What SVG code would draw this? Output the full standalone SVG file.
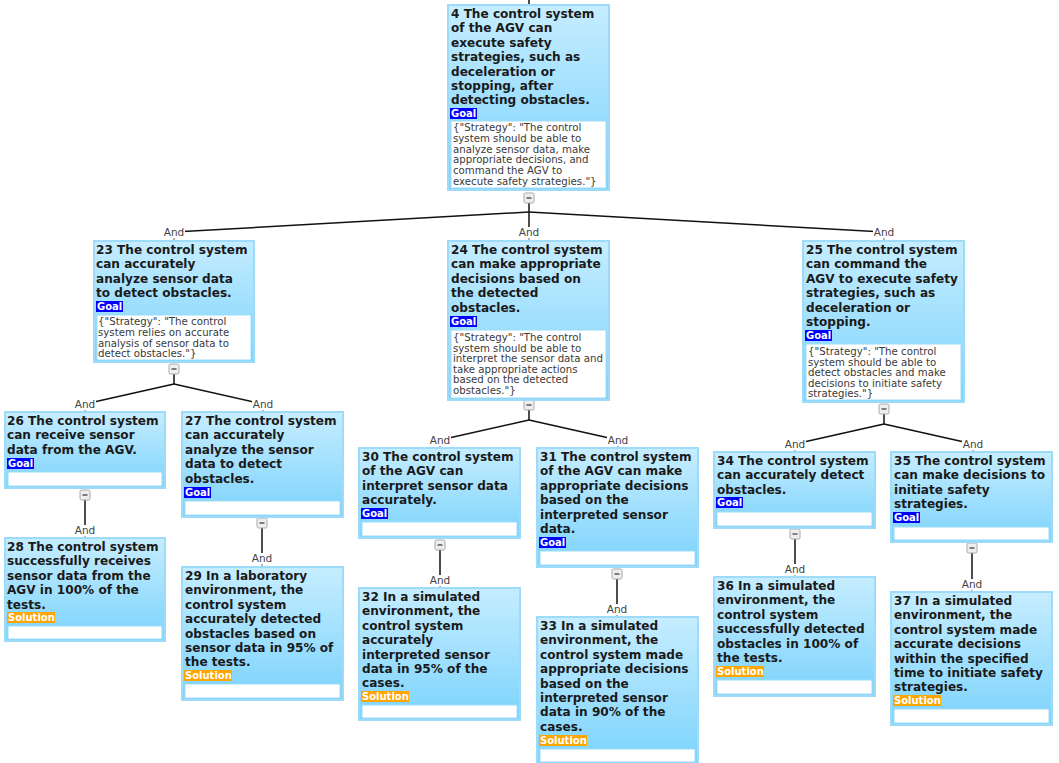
<svg xmlns="http://www.w3.org/2000/svg" width="1059" height="763" viewBox="0 0 1059 763">
<defs>
<linearGradient id="g" x1="0" y1="0" x2="0" y2="1">
<stop offset="0" stop-color="#c6edff"/>
<stop offset="1" stop-color="#7cd3fc"/>
</linearGradient>
<style>
.box{fill:url(#g);stroke:#9edbf8;stroke-width:2}
.wb{fill:#fff;stroke:#9edbf8;stroke-width:1}
.t{font-family:"DejaVu Sans",Verdana,sans-serif;font-weight:bold;font-size:12.1px;fill:#1a1a1a}
.s{font-family:"DejaVu Sans",Verdana,sans-serif;font-size:10.2px;fill:#3a3a3a}
.goal{fill:#0000ff}
.sol{fill:#ffa500}
.lt{font-family:"DejaVu Sans",Verdana,sans-serif;font-weight:bold;font-size:10px;fill:#fff}
.ln{stroke:#111;stroke-width:1.5;fill:none}
.tk{stroke:#666;stroke-width:1;fill:none}
.btn{fill:#eee;stroke:#aaa;stroke-width:1}
.mn{stroke:#333;stroke-width:1.2}
.and{font-family:"DejaVu Sans",Verdana,sans-serif;font-size:10.5px;fill:#444;text-anchor:middle}
.ab{fill:#fff}
</style>
</defs>
<rect width="1059" height="763" fill="#fff"/>
<g id="connectors">
<line class="ln" x1="529" y1="0" x2="529" y2="5"/>
<line class="ln" x1="529" y1="203" x2="529" y2="230"/>
<line class="ln" x1="529" y1="212" x2="174" y2="232"/>
<line class="ln" x1="529" y1="212" x2="884" y2="232"/>
<line class="ln" x1="174" y1="374" x2="174" y2="384"/>
<line class="ln" x1="174" y1="384" x2="85" y2="404"/>
<line class="ln" x1="174" y1="384" x2="263" y2="404"/>
<line class="ln" x1="529" y1="410" x2="529" y2="420"/>
<line class="ln" x1="529" y1="420" x2="440" y2="440"/>
<line class="ln" x1="529" y1="420" x2="618" y2="440"/>
<line class="ln" x1="884" y1="414" x2="884" y2="424"/>
<line class="ln" x1="884" y1="424" x2="795" y2="444"/>
<line class="ln" x1="884" y1="424" x2="973" y2="444"/>
<line class="ln" x1="85" y1="500" x2="85" y2="525"/>
<line class="ln" x1="262" y1="528" x2="262" y2="553"/>
<line class="ln" x1="440" y1="550" x2="440" y2="575"/>
<line class="ln" x1="617" y1="579" x2="617" y2="604"/>
<line class="ln" x1="795" y1="539" x2="795" y2="564"/>
<line class="ln" x1="972" y1="553" x2="972" y2="579"/>
<g>
<rect class="ab" x="163" y="227" width="22" height="11"/><text class="and" x="174" y="236">And</text>
<rect class="ab" x="518" y="227" width="22" height="11"/><text class="and" x="529" y="236">And</text>
<rect class="ab" x="873" y="227" width="22" height="11"/><text class="and" x="884" y="236">And</text>
<rect class="ab" x="74" y="399" width="22" height="11"/><text class="and" x="85" y="408">And</text>
<rect class="ab" x="252" y="399" width="22" height="11"/><text class="and" x="263" y="408">And</text>
<rect class="ab" x="429" y="435" width="22" height="11"/><text class="and" x="440" y="444">And</text>
<rect class="ab" x="607" y="435" width="22" height="11"/><text class="and" x="618" y="444">And</text>
<rect class="ab" x="784" y="439" width="22" height="11"/><text class="and" x="795" y="448">And</text>
<rect class="ab" x="962" y="439" width="22" height="11"/><text class="and" x="973" y="448">And</text>
<text class="and" x="85" y="534">And</text>
<text class="and" x="262" y="562">And</text>
<text class="and" x="440" y="584">And</text>
<text class="and" x="617" y="613">And</text>
<text class="and" x="795" y="573">And</text>
<text class="and" x="972" y="588">And</text>
</g>
<g>
<line class="tk" x1="174" y1="238" x2="174" y2="240"/>
<line class="tk" x1="529" y1="238" x2="529" y2="240"/>
<line class="tk" x1="884" y1="238" x2="884" y2="240"/>
<line class="tk" x1="85" y1="410" x2="85" y2="411"/>
<line class="tk" x1="263" y1="410" x2="263" y2="411"/>
<line class="tk" x1="440" y1="446" x2="440" y2="447"/>
<line class="tk" x1="618" y1="446" x2="618" y2="447"/>
<line class="tk" x1="795" y1="450" x2="795" y2="451"/>
<line class="tk" x1="973" y1="450" x2="973" y2="451"/>
<line class="tk" x1="85" y1="536" x2="85" y2="537"/>
<line class="tk" x1="262" y1="564" x2="262" y2="566"/>
<line class="tk" x1="440" y1="586" x2="440" y2="587"/>
<line class="tk" x1="617" y1="615" x2="617" y2="616"/>
<line class="tk" x1="795" y1="575" x2="795" y2="576"/>
<line class="tk" x1="972" y1="590" x2="972" y2="591"/>
</g>
<g>
<rect class="btn" x="524" y="193" width="10" height="10" rx="1.5"/><line class="mn" x1="526.5" y1="198" x2="531.5" y2="198"/>
<rect class="btn" x="169" y="364" width="10" height="10" rx="1.5"/><line class="mn" x1="171.5" y1="369" x2="176.5" y2="369"/>
<rect class="btn" x="524" y="400" width="10" height="10" rx="1.5"/><line class="mn" x1="526.5" y1="405" x2="531.5" y2="405"/>
<rect class="btn" x="879" y="404" width="10" height="10" rx="1.5"/><line class="mn" x1="881.5" y1="409" x2="886.5" y2="409"/>
<rect class="btn" x="80" y="490" width="10" height="10" rx="1.5"/><line class="mn" x1="82.5" y1="495" x2="87.5" y2="495"/>
<rect class="btn" x="257" y="518" width="10" height="10" rx="1.5"/><line class="mn" x1="259.5" y1="523" x2="264.5" y2="523"/>
<rect class="btn" x="435" y="540" width="10" height="10" rx="1.5"/><line class="mn" x1="437.5" y1="545" x2="442.5" y2="545"/>
<rect class="btn" x="612" y="569" width="10" height="10" rx="1.5"/><line class="mn" x1="614.5" y1="574" x2="619.5" y2="574"/>
<rect class="btn" x="790" y="529" width="10" height="10" rx="1.5"/><line class="mn" x1="792.5" y1="534" x2="797.5" y2="534"/>
<rect class="btn" x="967" y="543" width="10" height="10" rx="1.5"/><line class="mn" x1="969.5" y1="548" x2="974.5" y2="548"/>
</g>
</g>
<g id="n4">
<rect class="box" x="448" y="5" width="161" height="185"/>
<text class="t" x="451" y="18"><tspan x="451">4 The control system</tspan><tspan x="451" dy="14.4">of the AGV can</tspan><tspan x="451" dy="14.4">execute safety</tspan><tspan x="451" dy="14.4">strategies, such as</tspan><tspan x="451" dy="14.4">deceleration or</tspan><tspan x="451" dy="14.4">stopping, after</tspan><tspan x="451" dy="14.4">detecting obstacles.</tspan></text>
<rect class="goal" x="450" y="108" width="27" height="11"/><text class="lt" x="451" y="117">Goal</text>
<rect class="wb" x="451" y="121" width="155" height="67"/>
<text class="s" x="453" y="131"><tspan x="453">{"Strategy": "The control</tspan><tspan x="453" dy="10.8">system should be able to</tspan><tspan x="453" dy="10.8">analyze sensor data, make</tspan><tspan x="453" dy="10.8">appropriate decisions, and</tspan><tspan x="453" dy="10.8">command the AGV to</tspan><tspan x="453" dy="10.8">execute safety strategies."}</tspan></text>
</g>
<g id="n23">
<rect class="box" x="94" y="241" width="160" height="121"/>
<text class="t" x="96" y="254"><tspan x="96">23 The control system</tspan><tspan x="96" dy="14.4">can accurately</tspan><tspan x="96" dy="14.4">analyze sensor data</tspan><tspan x="96" dy="14.4">to detect obstacles.</tspan></text>
<rect class="goal" x="96" y="301" width="27" height="11"/><text class="lt" x="97" y="310">Goal</text>
<rect class="wb" x="97" y="315" width="154" height="45"/>
<text class="s" x="98" y="325"><tspan x="98">{"Strategy": "The control</tspan><tspan x="98" dy="10.8">system relies on accurate</tspan><tspan x="98" dy="10.8">analysis of sensor data to</tspan><tspan x="98" dy="10.8">detect obstacles."}</tspan></text>
</g>
<g id="n24">
<rect class="box" x="448" y="241" width="161" height="159"/>
<text class="t" x="451" y="254"><tspan x="451">24 The control system</tspan><tspan x="451" dy="14.4">can make appropriate</tspan><tspan x="451" dy="14.4">decisions based on</tspan><tspan x="451" dy="14.4">the detected</tspan><tspan x="451" dy="14.4">obstacles.</tspan></text>
<rect class="goal" x="450" y="316" width="27" height="11"/><text class="lt" x="451" y="325">Goal</text>
<rect class="wb" x="451" y="330" width="155" height="68"/>
<text class="s" x="453" y="341"><tspan x="453">{"Strategy": "The control</tspan><tspan x="453" dy="10.6">system should be able to</tspan><tspan x="453" dy="10.6">interpret the sensor data and</tspan><tspan x="453" dy="10.6">take appropriate actions</tspan><tspan x="453" dy="10.6">based on the detected</tspan><tspan x="453" dy="10.6">obstacles."}</tspan></text>
</g>
<g id="n25">
<rect class="box" x="803" y="241" width="161" height="161"/>
<text class="t" x="806" y="254"><tspan x="806">25 The control system</tspan><tspan x="806" dy="14.4">can command the</tspan><tspan x="806" dy="14.4">AGV to execute safety</tspan><tspan x="806" dy="14.4">strategies, such as</tspan><tspan x="806" dy="14.4">deceleration or</tspan><tspan x="806" dy="14.4">stopping.</tspan></text>
<rect class="goal" x="805" y="330" width="27" height="11"/><text class="lt" x="806" y="339">Goal</text>
<rect class="wb" x="806" y="344" width="155" height="56"/>
<text class="s" x="808" y="355"><tspan x="808">{"Strategy": "The control</tspan><tspan x="808" dy="10.6">system should be able to</tspan><tspan x="808" dy="10.6">detect obstacles and make</tspan><tspan x="808" dy="10.6">decisions to initiate safety</tspan><tspan x="808" dy="10.6">strategies."}</tspan></text>
</g>
<g id="n26">
<rect class="box" x="5" y="412" width="160" height="76"/>
<text class="t" x="7" y="425"><tspan x="7">26 The control system</tspan><tspan x="7" dy="14.4">can receive sensor</tspan><tspan x="7" dy="14.4">data from the AGV.</tspan></text>
<rect class="goal" x="7" y="458" width="27" height="11"/><text class="lt" x="8" y="467">Goal</text>
<rect class="wb" x="8" y="472" width="154" height="14"/>
</g>
<g id="n27">
<rect class="box" x="182" y="412" width="161" height="105"/>
<text class="t" x="185" y="425"><tspan x="185">27 The control system</tspan><tspan x="185" dy="14.4">can accurately</tspan><tspan x="185" dy="14.4">analyze the sensor</tspan><tspan x="185" dy="14.4">data to detect</tspan><tspan x="185" dy="14.4">obstacles.</tspan></text>
<rect class="goal" x="184" y="487" width="27" height="11"/><text class="lt" x="185" y="496">Goal</text>
<rect class="wb" x="185" y="501" width="155" height="14"/>
</g>
<g id="n30">
<rect class="box" x="359" y="448" width="161" height="90"/>
<text class="t" x="362" y="461"><tspan x="362">30 The control system</tspan><tspan x="362" dy="14.4">of the AGV can</tspan><tspan x="362" dy="14.4">interpret sensor data</tspan><tspan x="362" dy="14.4">accurately.</tspan></text>
<rect class="goal" x="361" y="508" width="27" height="11"/><text class="lt" x="362" y="517">Goal</text>
<rect class="wb" x="362" y="522" width="155" height="14"/>
</g>
<g id="n31">
<rect class="box" x="537" y="448" width="161" height="119"/>
<text class="t" x="540" y="461"><tspan x="540">31 The control system</tspan><tspan x="540" dy="14.4">of the AGV can make</tspan><tspan x="540" dy="14.4">appropriate decisions</tspan><tspan x="540" dy="14.4">based on the</tspan><tspan x="540" dy="14.4">interpreted sensor</tspan><tspan x="540" dy="14.4">data.</tspan></text>
<rect class="goal" x="539" y="537" width="27" height="11"/><text class="lt" x="540" y="546">Goal</text>
<rect class="wb" x="540" y="551" width="155" height="14"/>
</g>
<g id="n34">
<rect class="box" x="714" y="452" width="161" height="76"/>
<text class="t" x="717" y="465"><tspan x="717">34 The control system</tspan><tspan x="717" dy="14.4">can accurately detect</tspan><tspan x="717" dy="14.4">obstacles.</tspan></text>
<rect class="goal" x="716" y="497" width="27" height="11"/><text class="lt" x="717" y="506">Goal</text>
<rect class="wb" x="717" y="512" width="155" height="14"/>
</g>
<g id="n35">
<rect class="box" x="891" y="452" width="161" height="90"/>
<text class="t" x="894" y="465"><tspan x="894">35 The control system</tspan><tspan x="894" dy="14.4">can make decisions to</tspan><tspan x="894" dy="14.4">initiate safety</tspan><tspan x="894" dy="14.4">strategies.</tspan></text>
<rect class="goal" x="893" y="512" width="27" height="11"/><text class="lt" x="894" y="521">Goal</text>
<rect class="wb" x="894" y="527" width="155" height="13"/>
</g>
<g id="n28">
<rect class="box" x="5" y="538" width="160" height="103"/>
<text class="t" x="7" y="551"><tspan x="7">28 The control system</tspan><tspan x="7" dy="14.4">successfully receives</tspan><tspan x="7" dy="14.4">sensor data from the</tspan><tspan x="7" dy="14.4">AGV in 100% of the</tspan><tspan x="7" dy="14.4">tests.</tspan></text>
<rect class="sol" x="7" y="612" width="48" height="11"/><text class="lt" x="8" y="621">Solution</text>
<rect class="wb" x="8" y="626" width="154" height="13"/>
</g>
<g id="n29">
<rect class="box" x="182" y="567" width="161" height="133"/>
<text class="t" x="185" y="580"><tspan x="185">29 In a laboratory</tspan><tspan x="185" dy="14.4">environment, the</tspan><tspan x="185" dy="14.4">control system</tspan><tspan x="185" dy="14.4">accurately detected</tspan><tspan x="185" dy="14.4">obstacles based on</tspan><tspan x="185" dy="14.4">sensor data in 95% of</tspan><tspan x="185" dy="14.4">the tests.</tspan></text>
<rect class="sol" x="184" y="670" width="48" height="11"/><text class="lt" x="185" y="679">Solution</text>
<rect class="wb" x="185" y="684" width="155" height="14"/>
</g>
<g id="n32">
<rect class="box" x="359" y="588" width="161" height="132"/>
<text class="t" x="362" y="601"><tspan x="362">32 In a simulated</tspan><tspan x="362" dy="14.4">environment, the</tspan><tspan x="362" dy="14.4">control system</tspan><tspan x="362" dy="14.4">accurately</tspan><tspan x="362" dy="14.4">interpreted sensor</tspan><tspan x="362" dy="14.4">data in 95% of the</tspan><tspan x="362" dy="14.4">cases.</tspan></text>
<rect class="sol" x="361" y="691" width="48" height="11"/><text class="lt" x="362" y="700">Solution</text>
<rect class="wb" x="362" y="705" width="155" height="13"/>
</g>
<g id="n33">
<rect class="box" x="537" y="617" width="161" height="147"/>
<text class="t" x="540" y="630"><tspan x="540">33 In a simulated</tspan><tspan x="540" dy="14.4">environment, the</tspan><tspan x="540" dy="14.4">control system made</tspan><tspan x="540" dy="14.4">appropriate decisions</tspan><tspan x="540" dy="14.4">based on the</tspan><tspan x="540" dy="14.4">interpreted sensor</tspan><tspan x="540" dy="14.4">data in 90% of the</tspan><tspan x="540" dy="14.4">cases.</tspan></text>
<rect class="sol" x="539" y="735" width="48" height="11"/><text class="lt" x="540" y="744">Solution</text>
<rect class="wb" x="540" y="749" width="155" height="13"/>
</g>
<g id="n36">
<rect class="box" x="714" y="577" width="161" height="119"/>
<text class="t" x="717" y="590"><tspan x="717">36 In a simulated</tspan><tspan x="717" dy="14.4">environment, the</tspan><tspan x="717" dy="14.4">control system</tspan><tspan x="717" dy="14.4">successfully detected</tspan><tspan x="717" dy="14.4">obstacles in 100% of</tspan><tspan x="717" dy="14.4">the tests.</tspan></text>
<rect class="sol" x="716" y="666" width="48" height="11"/><text class="lt" x="717" y="675">Solution</text>
<rect class="wb" x="717" y="680" width="155" height="14"/>
</g>
<g id="n37">
<rect class="box" x="891" y="592" width="161" height="133"/>
<text class="t" x="894" y="605"><tspan x="894">37 In a simulated</tspan><tspan x="894" dy="14.4">environment, the</tspan><tspan x="894" dy="14.4">control system made</tspan><tspan x="894" dy="14.4">accurate decisions</tspan><tspan x="894" dy="14.4">within the specified</tspan><tspan x="894" dy="14.4">time to initiate safety</tspan><tspan x="894" dy="14.4">strategies.</tspan></text>
<rect class="sol" x="893" y="695" width="48" height="11"/><text class="lt" x="894" y="704">Solution</text>
<rect class="wb" x="894" y="709" width="155" height="14"/>
</g>
</svg>
